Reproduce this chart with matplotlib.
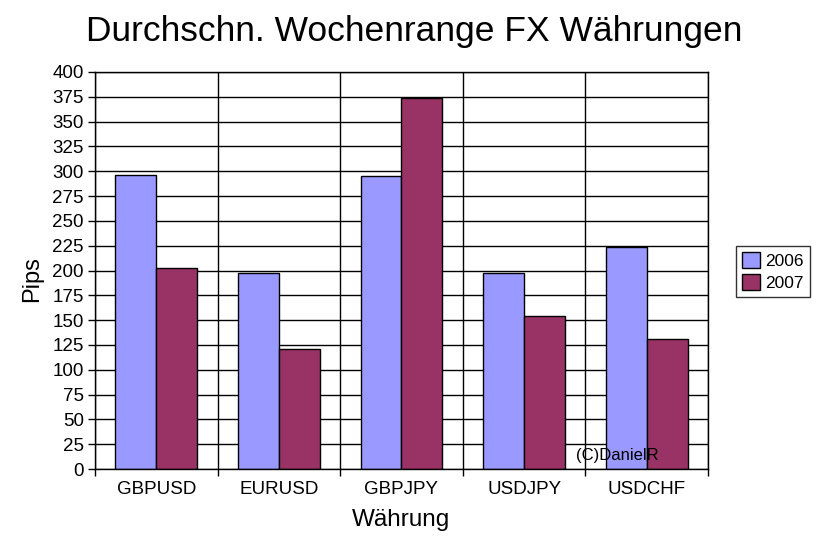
import matplotlib
matplotlib.use("Agg")
import matplotlib.pyplot as plt
import numpy as np

plt.rcParams['font.family'] = ['Liberation Sans', 'DejaVu Sans']

categories = ["GBPUSD", "EURUSD", "GBPJPY", "USDJPY", "USDCHF"]
values_2006 = [296, 197, 295, 197, 224]
values_2007 = [203, 121, 374, 154, 131]
series_labels = ["2006", "2007"]
yticks = list(range(0, 401, 25))

fig = plt.figure(figsize=(8.29, 5.47), dpi=100)
ax = fig.add_axes([95/829, 1 - 469/547, (708-95)/829, (469-72)/547])

x = np.arange(len(categories))
w = 1/3
ax.bar(x - w/2, values_2006, width=w, color="#9999FF", edgecolor="black", linewidth=1, label=series_labels[0], zorder=3)
ax.bar(x + w/2, values_2007, width=w, color="#993366", edgecolor="black", linewidth=1, label=series_labels[1], zorder=3)

ax.set_xlim(-0.5, len(categories) - 0.5)
ax.set_ylim(0, 400)
ax.set_yticks(yticks)
ax.set_xticks(x)
ax.set_xticklabels(categories, fontsize=13.5)
ax.set_xticks(np.arange(-0.5, len(categories)), minor=True)
ax.tick_params(axis='x', which='major', length=0, pad=9)
ax.tick_params(axis='x', which='minor', length=5, width=1, color='black')
ax.tick_params(axis='y', labelsize=13.5, length=5, width=1, pad=3)

for yv in yticks:
    ax.axhline(yv, color="black", linewidth=1, zorder=1)
for xv in np.arange(-0.5, len(categories)):
    ax.axvline(xv, color="black", linewidth=1, zorder=1)
for s in ax.spines.values():
    s.set_color("black")
    s.set_linewidth(1)
    s.set_zorder(4)

fig.text(32/829, 1 - 279/547, "Pips", rotation=90, ha="center", va="center", fontsize=17)
fig.text(401/829, 1 - 520/547, "Währung", ha="center", va="center", fontsize=17.5)
fig.text(414/829, 1 - 32/547, "Durchschn. Wochenrange FX Währungen", ha="center", va="center", fontsize=25.5)

ax.text(0.785, 0.035, "(C)DanielR", transform=ax.transAxes, fontsize=12, ha="left", va="center", zorder=5)

leg = fig.legend(loc="center", bbox_to_anchor=(773/829, 1 - 271.5/547), frameon=True,
                 fancybox=False, edgecolor="black", fontsize=12.5, handlelength=1.0, handleheight=1.0,
                 borderpad=0.35, labelspacing=0.3, handletextpad=0.3, borderaxespad=0)
leg.get_frame().set_linewidth(1)

fig.savefig("out.png", dpi=100)
